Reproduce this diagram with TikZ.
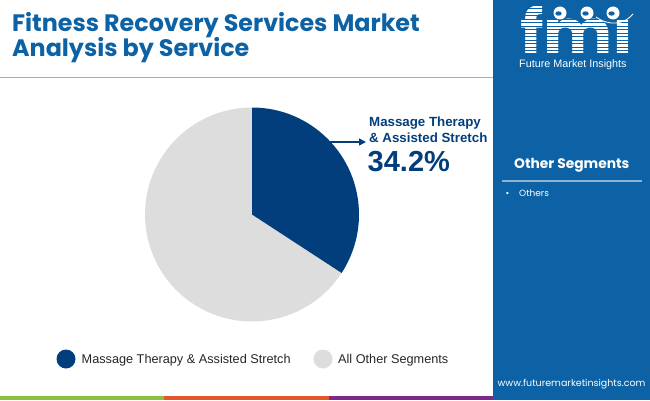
\documentclass[tikz,border=0pt]{standalone}
\usepackage{fontspec}
\setmainfont{Liberation Sans}
\newfontfamily\poppins{Poppins}
\usetikzlibrary{arrows.meta}
\definecolor{fmiblue}{HTML}{0C62A4}
\definecolor{slicenavy}{HTML}{023E7C}
\definecolor{slicegray}{HTML}{DDDDDD}
\definecolor{rulegray}{HTML}{8FB4D0}
\definecolor{stripegreen}{HTML}{8DC03F}
\definecolor{stripeorange}{HTML}{E4572B}
\definecolor{stripepurple}{HTML}{7B2A8A}

\begin{document}
\begin{tikzpicture}[x=1pt,y=1pt]

    \tikzset{
      TitleStyle/.style = { anchor = base west, inner sep = 0pt, text = fmiblue,
                          font = \poppins\bfseries\fontsize{23.8}{27}\selectfont },
      CalloutStyle/.style = { anchor = base west, inner sep = 0pt, text = slicenavy,
                          font = \bfseries\fontsize{13.3}{16}\selectfont },
      LegendStyle/.style = { anchor = base west, inner sep = 0pt, text = black!85,
                          font = \fontsize{12.7}{15}\selectfont },
      DotStyle/.style = { circle, minimum size = 19pt, inner sep = 0pt },
      PanelText/.style = { anchor = base west, inner sep = 0pt, text = white },
      GlobeStyle/.style = { circle, fill = white, minimum size = 13pt, inner sep = 0pt } }

      \useasboundingbox (0,0) rectangle (650,400);

      % title
      \node[TitleStyle] (title1) at (12,368.3) {Fitness Recovery Services Market};
      \node[TitleStyle] (title2) at (12,343.3) {Analysis by Service};
      \coordinate (ruleL) at (0,322.7);
      \coordinate (ruleR) at (493,322.7);
      \draw[rulegray, line width=1.2pt] (ruleL) -- (ruleR);

      % pie
      \coordinate (pie) at (252,185.5);
      \fill[slicegray] (pie) -- ++(-33.12:107) arc[start angle=-33.12, end angle=-270, radius=107] -- cycle;
      \fill[slicenavy] (pie) -- ++(90:107) arc[start angle=90, end angle=-33.12, radius=107] -- cycle;

      % callout
      \node[CalloutStyle] (share1) at (369,274) {Massage Therapy};
      \node[CalloutStyle] (share2) at (369,257.3) {\& Assisted Stretch};
      \node[CalloutStyle, font=\bfseries\fontsize{29}{32}\selectfont] (shareval) at (367.5,229) {34.2\%};
      \coordinate (arrowtail) at (330,258);
      \draw[slicenavy, line width=1.4pt, -{Triangle[length=7pt,width=7pt]}, shorten >=3pt]
        (arrowtail) -- (arrowtail -| share2.west);

      % legend
      \node[DotStyle, fill=slicenavy] (dotA) at (66,41) {};
      \node[LegendStyle] (legA) at (81.5,36.7) {Massage Therapy \& Assisted Stretch};
      \node[DotStyle, fill=slicegray] (dotB) at (323,41) {};
      \node[LegendStyle] (legB) at (338,36.7) {All Other Segments};

      % bottom stripes
      \fill[stripegreen] (0,0) rectangle (164.3,4);
      \fill[stripeorange] (164.3,0) rectangle (328.7,4);
      \fill[stripepurple] (328.7,0) rectangle (493,4);

      % side panel
      \fill[fmiblue] (493,0) rectangle (650,400);
      \begin{scope}[shift={(520,347)}, xscale=1.07]
        \node[PanelText, transform shape, text depth=0pt,
              font=\poppins\bfseries\fontsize{61}{61}\selectfont] (logo) at (0,0) {fm\i};
      \end{scope}
      \foreach \ly in {346,349.5,...,396}
        \draw[fmiblue, line width=0.9pt] (516,\ly) -- (632,\ly);
      \foreach \gx/\gname in {560/globeA,587/globeB,613/globeC} {
        \node[GlobeStyle] (\gname) at (\gx,387) {};
        \fill[fmiblue] (\gx-1.5,386.5) ellipse (3.2pt and 2.2pt);
      }
      \draw[white, line width=0.8pt] (596,383) .. controls (608,374) and (624,375) .. (633,386);
      \node[PanelText, font=\fontsize{10.8}{12}\selectfont] (fminame) at (519,332.5) {Future Market Insights};

      \node[PanelText, font=\poppins\bfseries\fontsize{13.8}{15}\selectfont] (othershead) at (514,231.5) {Other Segments};
      \coordinate (sideruleL) at (502,219);
      \coordinate (sideruleR) at (642,219);
      \draw[rulegray, line width=1.2pt] (sideruleL) -- (sideruleR);
      \node[PanelText, font=\poppins\fontsize{9}{10}\selectfont] (othersdot) at (505.5,204) {\textbullet};
      \node[PanelText, font=\poppins\fontsize{9}{10}\selectfont] (othersitem) at (519,204) {Others};

      \node[PanelText, font=\poppins\fontsize{9.5}{11}\selectfont] (website) at (497.5,14) {www.futuremarketinsights.com};
    \end{tikzpicture}
\end{document}
